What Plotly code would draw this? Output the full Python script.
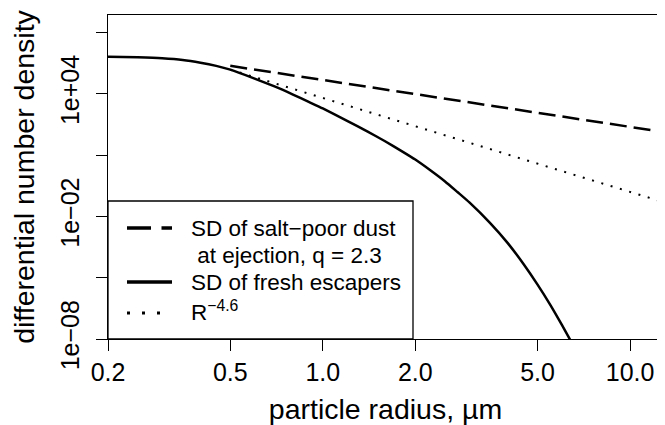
import math
import plotly.graph_objects as go

# ---- data ----
radius_fresh = [0.2, 0.25, 0.3, 0.35, 0.4, 0.45, 0.5, 0.6, 0.7, 0.8, 0.9, 1.0,
                1.2, 1.4, 1.6, 1.8, 2.0, 2.25, 2.5, 2.75, 3.0, 3.5, 4.0, 4.5,
                5.0, 5.5, 6.0, 6.5]
density_fresh = [6.5e5, 6.0e5, 5.4e5, 4.5e5, 3.3e5, 2.3e5, 1.5e5, 5.5e4, 2.2e4,
                 9.1e3, 4.0e3, 1.9e3, 4.7e2, 1.4e2, 46, 16, 6.0, 1.7, 0.51,
                 0.15, 0.048, 4.8e-3, 4.9e-4, 4.7e-5, 4.6e-6, 4.7e-7, 4.9e-8,
                 5.6e-9]

radius_ejection = [0.5, 13.0]
density_ejection = [2.3e5, 130.0]

radius_power = [0.5, 13.0]
density_power = [1.5e5, 0.047]

x_tickvals = [0.2, 0.5, 1.0, 2.0, 5.0, 10.0]
x_ticktext = ["0.2", "0.5", "1.0", "2.0", "5.0", "10.0"]
y_tickvals = [1e-8, 1e-2, 1e4]
y_ticktext = ["1e\u221208", "1e\u221202", "1e+04"]
y_minor_tickvals = [1e-5, 1e1, 1e7]

legend_labels = ["SD of salt\u2212poor dust", " at ejection, q = 2.3",
                 "SD of fresh escapers", "R<sup>\u22124.6</sup>"]

FONT = "Liberation Sans, Arial, Helvetica, sans-serif"

# the page body has an 8px margin: size the figure so the plot sits where
# the reference has it inside the 665x425 window
OFF = 8
FIG_W, FIG_H = 665 - OFF, 425 - OFF

fig = go.Figure()
fig.add_trace(go.Scatter(x=radius_ejection, y=density_ejection, mode="lines",
                         line=dict(color="black", width=2.5, dash="17px,7px"),
                         showlegend=False))
fig.add_trace(go.Scatter(x=radius_power, y=density_power, mode="lines",
                         line=dict(color="black", width=2, dash="2px,7.7px"),
                         showlegend=False))
fig.add_trace(go.Scatter(x=radius_fresh, y=density_fresh, mode="lines",
                         line=dict(color="black", width=2.5, shape="spline",
                                   smoothing=0.5),
                         showlegend=False))

# plot area geometry (window pixels)
L, R, T, B = 108, 663, 15, 339
W, H = R - L, B - T


def px(xp):
    return (xp - L) / W


def py(yp):
    return (B - yp) / H


# legend box
fig.add_shape(type="rect", xref="paper", yref="paper",
              x0=px(108), x1=px(413), y0=py(339), y1=py(201),
              line=dict(color="black", width=1.3), fillcolor="white",
              layer="above")
# legend samples
samples = [(228, "24px,10.5px", 3.5), (282, "solid", 3.5), (313, "3px,12px", 3)]
for yy, dash, w in samples:
    fig.add_shape(type="line", xref="paper", yref="paper",
                  x0=px(127), x1=px(172), y0=py(yy), y1=py(yy),
                  line=dict(color="black", width=w, dash=dash), layer="above")
rows = [(189, 228), (189, 255), (189, 282), (189, 311)]
for (xx, yy), lab in zip(rows, legend_labels):
    fig.add_annotation(xref="paper", yref="paper", x=px(xx), y=py(yy),
                       xanchor="left", yanchor="middle", text=lab,
                       showarrow=False, font=dict(size=22.5, color="black",
                                                  family=FONT))

axis_common = dict(type="log", showgrid=False, zeroline=False, showline=True,
                   mirror=True, linecolor="black", linewidth=1.3,
                   ticks="outside", ticklen=11, tickwidth=1.3,
                   tickcolor="black", tickfont=dict(size=25, color="black",
                                                    family=FONT))

fig.update_layout(
    width=FIG_W, height=FIG_H,
    margin=dict(l=L - OFF, r=665 - R, t=T - OFF, b=425 - B, autoexpand=False),
    paper_bgcolor="white", plot_bgcolor="white",
    font=dict(family=FONT, color="black"),
    xaxis=dict(range=[math.log10(0.2), math.log10(12.8)],
               tickvals=x_tickvals, ticktext=x_ticktext,
               title=dict(text="particle radius, \u00b5m",
                          font=dict(size=28.5, family=FONT, color="black"),
                          standoff=17),
               **axis_common),
    yaxis=dict(range=[-8, 7.85], tickvals=y_tickvals, ticktext=y_ticktext,
               tickangle=-90, ticklabelstandoff=7,
               minor=dict(tickvals=y_minor_tickvals, ticks="outside",
                          ticklen=11, tickwidth=1.3, tickcolor="black",
                          showgrid=False),
               title=dict(text="differential number density",
                          font=dict(size=28.5, family=FONT, color="black"),
                          standoff=12),
               **axis_common),
)

fig.write_html("out.html")
